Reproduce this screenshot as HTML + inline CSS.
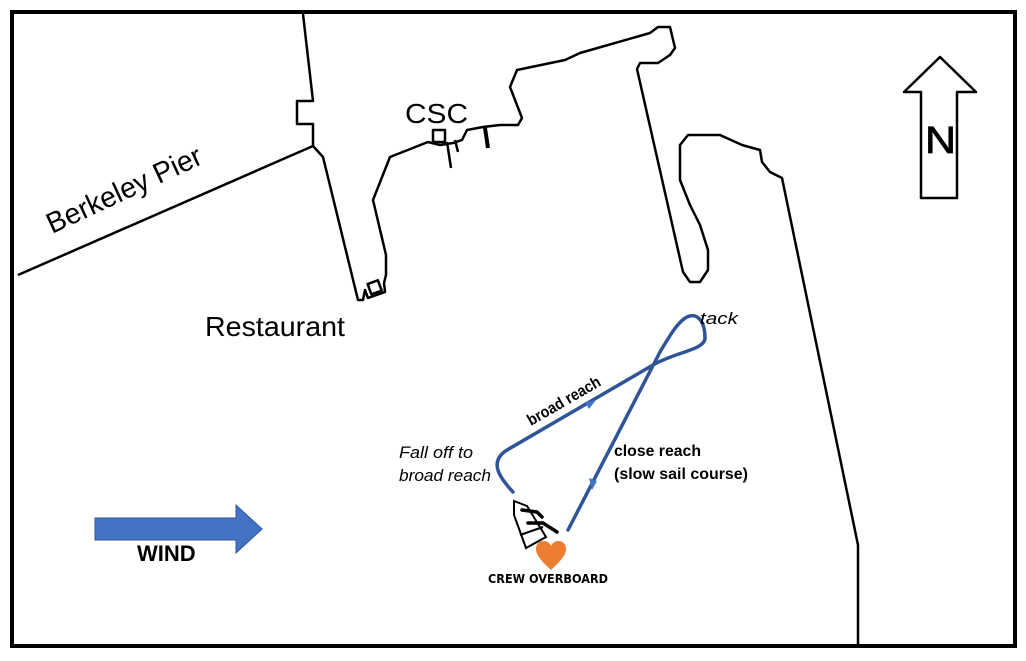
<!DOCTYPE html>
<html><head><style>
html,body{margin:0;padding:0;background:#fff;}
svg{display:block;}
text{font-family:"Liberation Sans",sans-serif;}
.c{font-family:"DejaVu Sans","Liberation Sans",sans-serif;}
</style></head><body>
<svg width="1026" height="661" viewBox="0 0 1026 661" xmlns="http://www.w3.org/2000/svg">
<rect x="0" y="0" width="1026" height="661" fill="#fff"/>
<rect x="12" y="12" width="1003" height="634" fill="none" stroke="#000" stroke-width="4"/>
<g fill="none" stroke="#000" stroke-width="2.5" stroke-linejoin="round">
<line x1="18" y1="275" x2="313" y2="146"/>
<polyline points="303,14 313,101 297,101 297,124 313,124 313,146 323,157 358,300 363,300 365,290 368,298 385,292 384,283 386,275 386,255 373,200 390,157 428,142 440,145 453,143 462,140 467,130 483,127 500,125 518,125 522,118 510,87 517,70 565,60 580,53 650,33 658,27 670,27 675,48 670,55 658,63 640,63 637,69 683,272 690,282 700,282 708,270 708,250 700,225 690,205 680,180 680,145 688,135 720,135 742,145 760,150 762,162 770,172 782,178 858,545 858,645"/>
<rect x="369" y="282" width="11" height="11" transform="rotate(-20 374 287)"/>
<rect x="433" y="130" width="12" height="12"/>
<line x1="447" y1="142" x2="451" y2="168"/>
<line x1="455" y1="140" x2="458" y2="152"/>
<line x1="485" y1="128" x2="488" y2="148" stroke-width="4"/>
<polygon points="921,198 957,198 957,92 976,92 940,57 904,92 921,92"/>
</g>
<text x="925" y="153" font-size="38" textLength="31" lengthAdjust="spacingAndGlyphs" stroke="#000" stroke-width="0.8">N</text>
<text x="405" y="123" font-size="28" textLength="63" lengthAdjust="spacingAndGlyphs">CSC</text>
<text x="205" y="336" font-size="28" textLength="140" lengthAdjust="spacingAndGlyphs">Restaurant</text>
<text x="0" y="0" font-size="29" textLength="168" lengthAdjust="spacingAndGlyphs" transform="translate(52,234) rotate(-25)">Berkeley Pier</text>
<polygon points="95,518 236,518 236,505 262,529 236,553 236,540 95,540" fill="#4472C4" stroke="#2F5597" stroke-width="1"/>
<text x="137" y="561" font-size="22" font-weight="bold">WIND</text>
<g fill="none" stroke="#2F5597" stroke-width="3.5" stroke-linecap="round" stroke-linejoin="round">
<path d="M513,492 C500,478 488,462 507,450 L653,365 C675,352 705,350 705,338 C705,322 698,314 690,316 C680,318 670,335 660,352 L568,530"/>
</g>
<polygon points="596,400 585,402 589,409" fill="#4472C4"/>
<polygon points="592,490 589,478 597,481" fill="#4472C4"/>
<g fill="none" stroke="#000" stroke-width="2">
<polygon points="514,501 527,506 546,537 526,548 514,515" fill="#fff"/>
<line x1="520" y1="535" x2="543" y2="527"/>
</g>
<g fill="none" stroke="#000" stroke-width="3.5" stroke-linecap="round">
<polyline points="522,510 537,512 542,517"/>
<polyline points="528,523 543,523 557,532"/>
</g>
<path d="M551,570 C540,560 536,554 536,549 C536,543 540,541 544,541 C548,541 550,544 551,546 C552,544 554,541 558,541 C562,541 566,543 566,549 C566,554 562,560 551,570 Z" fill="#ED7D31"/>
<text x="488" y="583" font-size="12" font-weight="bold" textLength="120" lengthAdjust="spacingAndGlyphs" class="c">CREW OVERBOARD</text>
<g class="c">
<text x="0" y="0" font-size="16" font-weight="bold" textLength="82" lengthAdjust="spacingAndGlyphs" transform="translate(531,426) rotate(-30)">broad reach</text>
<text x="614" y="456" font-size="16" font-weight="bold" textLength="87" lengthAdjust="spacingAndGlyphs">close reach</text>
<text x="614" y="479" font-size="16" font-weight="bold" textLength="134" lengthAdjust="spacingAndGlyphs">(slow sail course)</text>
<text x="399" y="458" font-size="17" font-style="italic" textLength="74" lengthAdjust="spacingAndGlyphs">Fall off to</text>
<text x="399" y="481" font-size="17" font-style="italic" textLength="92" lengthAdjust="spacingAndGlyphs">broad reach</text>
<text x="700" y="324" font-size="17" font-style="italic" textLength="38" lengthAdjust="spacingAndGlyphs">tack</text>
</g>
</svg>
</body></html>
